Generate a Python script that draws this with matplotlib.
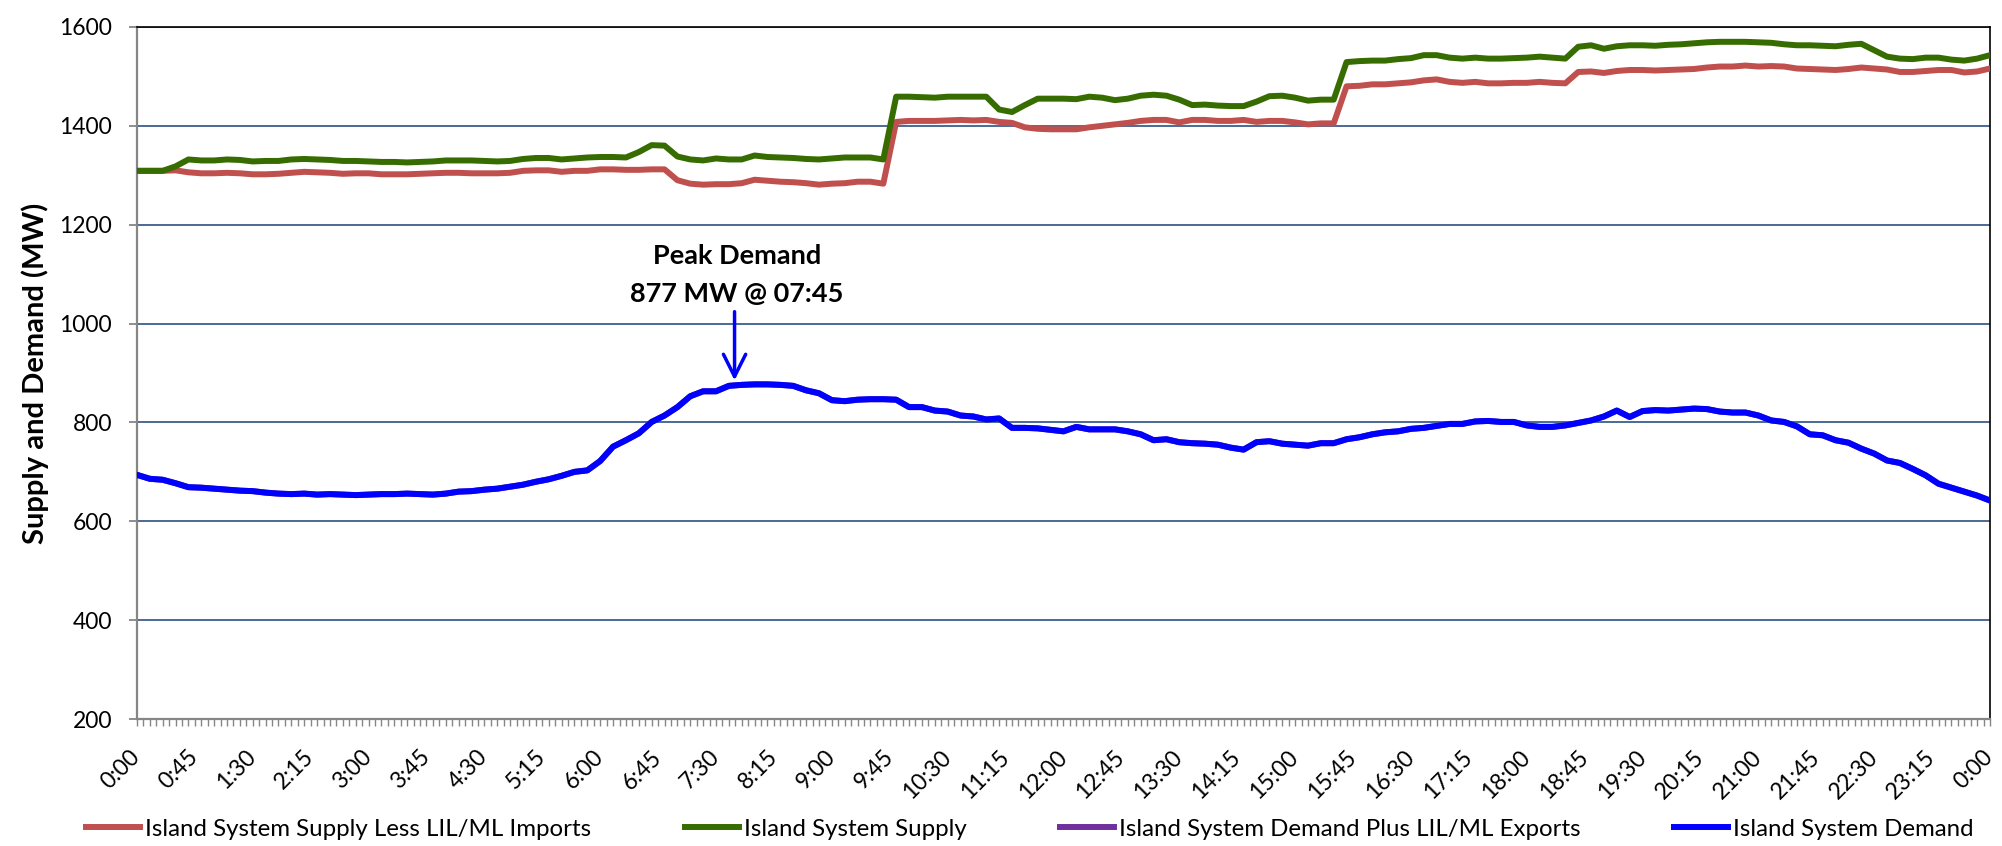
"""Island system supply vs demand over one day (10-minute readings)."""

import numpy as np
import matplotlib

matplotlib.use("Agg")
import matplotlib.pyplot as plt
from matplotlib.ticker import MultipleLocator

plt.rcParams["font.family"] = ["Lato", "DejaVu Sans"]

STEP_MIN = 10  # minutes between readings below, starting at 0:00

supply_less_imports = [
    1309, 1309, 1309, 1310, 1306, 1304, 1304, 1305, 1304, 1302, 1302, 1303,
    1305, 1307, 1306, 1305, 1303, 1304, 1304, 1302, 1302, 1302, 1303, 1304,
    1305, 1305, 1304, 1304, 1304, 1305, 1309, 1310, 1310, 1307, 1309, 1309,
    1312, 1312, 1311, 1311, 1312, 1312, 1290, 1283, 1281, 1282, 1282, 1284,
    1291, 1289, 1287, 1286, 1284, 1281, 1283, 1284, 1287, 1287, 1283, 1408,
    1410, 1410, 1410, 1411, 1412, 1411, 1412, 1408, 1406, 1397, 1394, 1393,
    1393, 1393, 1397, 1400, 1403, 1406, 1410, 1412, 1412, 1407, 1412, 1412,
    1410, 1410, 1412, 1408, 1410, 1410, 1407, 1403, 1405, 1405, 1480, 1481,
    1484, 1484, 1486, 1488, 1492, 1494, 1489, 1487, 1489, 1486, 1486, 1487,
    1487, 1489, 1487, 1486, 1509, 1510, 1507, 1511, 1513, 1513, 1512, 1513,
    1514, 1515, 1518, 1520, 1520, 1522, 1520, 1521, 1520, 1516, 1515, 1514,
    1513, 1515, 1518, 1516, 1514, 1509, 1509, 1511, 1513, 1513, 1508, 1510,
    1516,
]

supply = [
    1309, 1309, 1309, 1318, 1332, 1330, 1330, 1332, 1331, 1328, 1329, 1329,
    1332, 1333, 1332, 1331, 1329, 1329, 1328, 1327, 1327, 1326, 1327, 1328,
    1330, 1330, 1330, 1329, 1328, 1329, 1333, 1335, 1335, 1332, 1334, 1336,
    1337, 1337, 1336, 1347, 1361, 1360, 1338, 1332, 1330, 1334, 1332, 1332,
    1340, 1337, 1336, 1335, 1333, 1332, 1334, 1336, 1336, 1336, 1332, 1459,
    1459, 1458, 1457, 1459, 1459, 1459, 1459, 1433, 1428, 1442, 1455, 1455,
    1455, 1454, 1459, 1457, 1452, 1455, 1461, 1463, 1461, 1453, 1442, 1443,
    1441, 1440, 1440, 1449, 1460, 1461, 1457, 1451, 1453, 1453, 1529, 1531,
    1532, 1532, 1535, 1537, 1543, 1543, 1538, 1536, 1538, 1536, 1536, 1537,
    1538, 1540, 1538, 1536, 1560, 1563, 1556, 1561, 1563, 1563, 1562, 1564,
    1565, 1567, 1569, 1570, 1570, 1570, 1569, 1568, 1565, 1563, 1563, 1562,
    1561, 1564, 1566, 1553, 1540, 1536, 1535, 1538, 1538, 1534, 1532, 1536,
    1543,
]

demand = [
    694, 686, 684, 677, 669, 668, 666, 664, 662, 661, 658, 656,
    655, 656, 654, 655, 654, 653, 654, 655, 655, 656, 655, 654,
    656, 660, 661, 664, 666, 670, 674, 680, 685, 692, 700, 703,
    722, 751, 764, 778, 801, 814, 831, 853, 863, 863, 874, 876,
    877, 877, 876, 874, 865, 859, 845, 843, 846, 847, 847, 846,
    831, 831, 824, 822, 814, 812, 806, 808, 789, 789, 788, 785,
    782, 791, 786, 786, 786, 782, 776, 764, 766, 760, 758, 757,
    755, 749, 745, 760, 762, 757, 755, 753, 758, 758, 766, 770,
    776, 780, 782, 787, 789, 793, 797, 797, 802, 803, 801, 801,
    794, 791, 791, 794, 799, 804, 812, 824, 811, 823, 825, 824,
    826, 828, 827, 822, 820, 820, 814, 804, 801, 792, 776, 774,
    764, 759, 747, 737, 723, 718, 706, 693, 676, 668, 660, 652,
    642,
]

# no exports that day, so this series lies hidden under the demand line
demand_plus_exports = list(demand)

tick_labels = [
    "0:00", "0:45", "1:30", "2:15", "3:00", "3:45", "4:30", "5:15", "6:00",
    "6:45", "7:30", "8:15", "9:00", "9:45", "10:30", "11:15", "12:00",
    "12:45", "13:30", "14:15", "15:00", "15:45", "16:30", "17:15", "18:00",
    "18:45", "19:30", "20:15", "21:00", "21:45", "22:30", "23:15", "0:00",
]
TICK_EVERY_MIN = 45

SERIES = [
    ("Island System Supply Less LIL/ML Imports", supply_less_imports, "#C0504D"),
    ("Island System Supply", supply, "#376C00"),
    ("Island System Demand Plus LIL/ML Exports", demand_plus_exports, "#7030A0"),
    ("Island System Demand", demand, "#0000FF"),
]

AXIS_GREY = "#868686"
GRID_BLUE = "#3C5F8F"

fig = plt.figure(figsize=(20.02, 8.46), dpi=100)
ax = fig.add_axes([0.0684, 0.1501, 0.9256, 0.8180])

x = np.arange(len(supply)) * STEP_MIN
for label, vals, color in SERIES:
    ax.plot(x, vals, color=color, lw=4.3, label=label, zorder=3)

ax.set_xlim(0, 1440)
ax.set_ylim(200, 1600)
ax.set_yticks(np.arange(200, 1601, 200))
ax.yaxis.grid(True, color=GRID_BLUE, lw=1.3)
ax.set_axisbelow(True)

ax.set_xticks(np.arange(len(tick_labels)) * TICK_EVERY_MIN)
ax.set_xticklabels(tick_labels, rotation=45, ha="right", va="center",
                   rotation_mode="anchor")
ax.xaxis.set_minor_locator(MultipleLocator(5))

ax.tick_params(axis="x", which="both", length=5, width=1, color=AXIS_GREY,
               labelsize=16.5, pad=20)
ax.tick_params(axis="y", length=6, width=1.3, color=AXIS_GREY,
               labelsize=16.5, pad=12)

for side in ("left", "bottom"):
    ax.spines[side].set_color(AXIS_GREY)
    ax.spines[side].set_linewidth(1.6)
for side in ("top", "right"):
    ax.spines[side].set_color("black")
    ax.spines[side].set_linewidth(1.2)

ax.set_ylabel("Supply and Demand (MW)", fontsize=21, fontweight="bold",
              labelpad=7)

# peak demand call-out
peak_t = 7.74 * 60
ax.annotate("", xy=(peak_t, 885), xytext=(peak_t, 1024),
            arrowprops=dict(arrowstyle="->", color="#0000FF", lw=2.5,
                            mutation_scale=40, shrinkA=0, shrinkB=0))
ax.text(7.77 * 60, 1120, "Peak Demand", ha="center", va="baseline",
        fontsize=19.5, fontweight="bold")
ax.text(7.77 * 60, 1043, "877 MW @ 07:45", ha="center", va="baseline",
        fontsize=19.5, fontweight="bold")

fig.legend(loc="center", bbox_to_anchor=(0.5145, 0.02), ncol=4,
           frameon=False, fontsize=17.3, handlelength=2.25, handletextpad=0.2,
           columnspacing=3.9)

fig.savefig("out.png", dpi=100)
